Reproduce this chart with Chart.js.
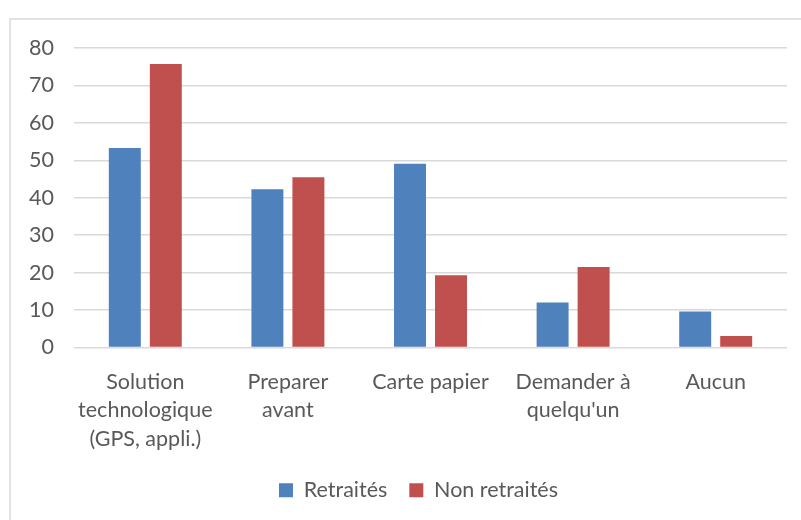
<!DOCTYPE html>
<html>
<head>
<meta charset="utf-8">
<script src="https://cdn.jsdelivr.net/npm/chart.js@4.4.1/dist/chart.umd.min.js"></script>
<style>
  html, body { margin:0; padding:0; background:#fff; }
  #wrap { position:absolute; left:0; top:0; width:801px; height:520px; }
</style>
</head>
<body>
<div id="wrap"><canvas id="c" width="801" height="520"></canvas></div>
<script>
// données
const categories = [
  ['Solution', 'technologique', '(GPS, appli.)'],
  ['Preparer', 'avant'],
  'Carte papier',
  ['Demander à', "quelqu'un"],
  'Aucun'
];
const retraites    = [53.3, 42.3, 49.1, 12.0, 9.6];
const nonRetraites = [75.7, 45.5, 19.3, 21.5, 3.1];
const yTicks = { min: 0, max: 80, step: 10 };

const TEXT = '#595959';
const GRID = '#D9D9D9';
const FONT = 'Lato, Calibri, sans-serif';
const FS = 21.5;

// cadre gris clair autour du graphique (style Excel)
const frame = {
  id: 'frame',
  beforeDraw(chart) {
    const ctx = chart.ctx;
    ctx.save();
    ctx.strokeStyle = GRID;
    ctx.lineWidth = 1.5;
    ctx.beginPath();
    ctx.moveTo(10, 520);
    ctx.lineTo(10, 19);
    ctx.lineTo(801, 19);
    ctx.stroke();
    ctx.restore();
  }
};

// la légende est centrée sur la zone de tracé, pas sur le canvas
const legendShift = {
  id: 'legendShift',
  afterUpdate(chart) {
    const lg = chart.legend;
    const mid = (chart.chartArea.left + chart.chartArea.right) / 2;
    const d = mid - (lg.left + lg.right) / 2 - 12;
    lg.left += d;
    lg.right += d;
  }
};

new Chart(document.getElementById('c'), {
  type: 'bar',
  data: {
    labels: categories,
    datasets: [
      { label: 'Retraités', data: retraites, backgroundColor: '#4F81BD',
        categoryPercentage: 0.575, barPercentage: 0.78 },
      { label: 'Non retraités', data: nonRetraites, backgroundColor: '#C0504D',
        categoryPercentage: 0.575, barPercentage: 0.78 }
    ]
  },
  options: {
    responsive: false,
    animation: false,
    layout: { padding: { left: 0, right: 14, top: 48, bottom: 9 } },
    plugins: {
      legend: {
        position: 'bottom',
        labels: { color: TEXT, font: { family: FONT, size: FS }, boxWidth: 14, boxHeight: 14, padding: 22 }
      },
      tooltip: { enabled: false }
    },
    scales: {
      y: {
        min: yTicks.min, max: yTicks.max,
        ticks: { stepSize: yTicks.step, color: TEXT, font: { family: FONT, size: FS }, padding: 20 },
        grid: { color: GRID, lineWidth: 1.5, drawTicks: false },
        border: { display: false },
        afterFit: s => { s.width = 74; }
      },
      x: {
        ticks: { color: TEXT, font: { family: FONT, size: FS, lineHeight: 1.33 }, maxRotation: 0, autoSkip: false, padding: 12 },
        grid: { display: false },
        border: { display: false },
        afterFit: s => { s.height = 110; }
      }
    }
  },
  plugins: [frame, legendShift]
});
</script>
</body>
</html>
